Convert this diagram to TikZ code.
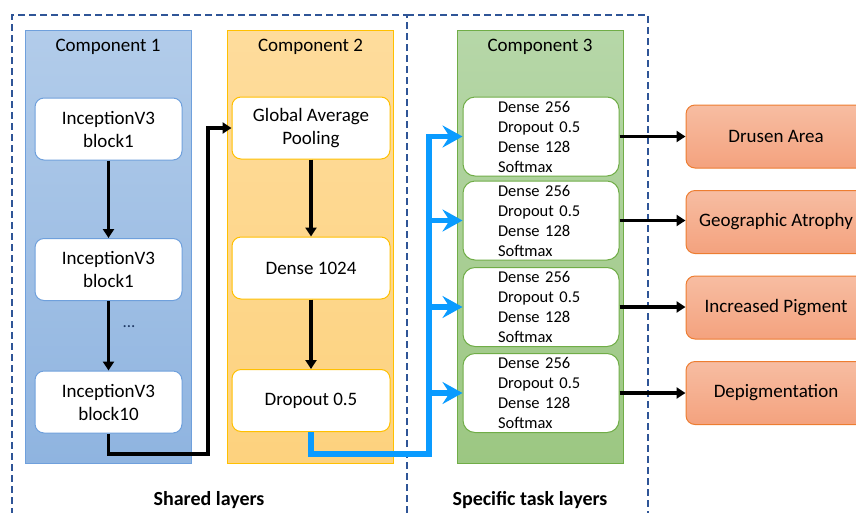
\documentclass[tikz,border=0pt]{standalone}
\usepackage{fontspec}
\setmainfont{Carlito}
\usepackage{xcolor}
\usetikzlibrary{arrows.meta, positioning, calc}
\definecolor{dashblue}{HTML}{2F5597}
\definecolor{c1top}{HTML}{B2CCEA}
\definecolor{c1bot}{HTML}{8FB4E0}
\definecolor{c1line}{HTML}{6FA0DC}
\definecolor{c2top}{HTML}{FEDC9C}
\definecolor{c2bot}{HTML}{FDD27E}
\definecolor{c2line}{HTML}{FFC000}
\definecolor{c3top}{HTML}{B6D7A8}
\definecolor{c3bot}{HTML}{9CC782}
\definecolor{c3line}{HTML}{70AD47}
\definecolor{outtop}{HTML}{F7BDA2}
\definecolor{outbot}{HTML}{F4A27E}
\definecolor{outline}{HTML}{ED7D31}
\definecolor{busblue}{HTML}{0A9BFF}
\definecolor{dotnavy}{HTML}{1F3864}
\tikzset{
  groupdash/.style={draw=dashblue, dash pattern=on 7pt off 4pt, line width=2.2pt},
  column/.style={draw, line width=1pt, minimum width=166pt, minimum height=433pt},
  title/.style={font=\fontsize{19}{22}\selectfont},
  layer/.style={draw, fill=white, rounded corners=9pt, line width=1pt, minimum height=62pt, align=center, font=\fontsize{19}{23}\selectfont},
  head/.style={draw=c3line, fill=white, rounded corners=12pt, line width=1pt, minimum width=156pt, minimum height=79pt, text width=86pt, inner xsep=35pt, inner ysep=0pt, align=left, font=\fontsize{16.5}{20}\selectfont},
  output/.style={draw=outline, top color=outtop, bottom color=outbot, rounded corners=9pt, line width=1pt, minimum width=180pt, minimum height=63pt, font=\fontsize{19}{22}\selectfont},
  link/.style={-{Triangle[length=9pt, width=11pt]}, line width=3.2pt},
  buslink/.style={-{Stealth[length=20pt, width=22pt, inset=7pt]}, line width=5.5pt, draw=busblue},
  caption/.style={font=\fontsize{20}{24}\selectfont\bfseries}
}

\begin{document}
\begin{tikzpicture}[x=1pt, y=-1pt]
    \useasboundingbox (0,0) rectangle (856,512);
    \clip (0,0) rectangle (856,512);

    % Groups
    \draw[groupdash] (407,535) -- (407,15) -- (12,15) -- (12,535);
    \draw[groupdash] (407,15) -- (648,15) -- (648,535);
    \node[caption] (sharedlbl) at (209,500) {Shared layers};
    \node[caption] (specificlbl) at (530,500) {Specific task layers};

    % Columns
    \node[column, draw=c1line, top color=c1top, bottom color=c1bot] (col1) at (108,246.5) {};
    \node[column, draw=c2line, top color=c2top, bottom color=c2bot] (col2) at (310.5,246.5) {};
    \node[column, draw=c3line, top color=c3top, bottom color=c3bot] (col3) at (540,246.5) {};
    \node[title] (tit1) at (108,47) {Component 1};
    \node[title] (tit2) at (310.5,47) {Component 2};
    \node[title] (tit3) at (540,47) {Component 3};

    % Component 1
    \node[layer, draw=c1line, minimum width=147pt] (b1) at (108.5,129) {InceptionV3\\block1};
    \node[layer, draw=c1line, minimum width=147pt] (b2) at (108.5,269.5) {InceptionV3\\block1};
    \node[layer, draw=c1line, minimum width=147pt] (b3) at (108.5,402) {InceptionV3\\block10};
    \node[text=dotnavy, font=\fontsize{17}{18}\selectfont] (dots) at (129,327) {...};

    % Component 2
    \node[layer, draw=c2line, minimum width=158pt] (gap) at (311,128) {Global Average\\Pooling};
    \node[layer, draw=c2line, minimum width=158pt] (dense) at (311,268) {Dense 1024};
    \node[layer, draw=c2line, minimum width=158pt] (drop) at (311,400.5) {Dropout 0.5};

    % Component 3
    \node[head] (t1) at (541,136.5) {Dense 256\\Dropout 0.5\\Dense 128\\Softmax};
    \node[head] (t2) at (541,220.5) {Dense 256\\Dropout 0.5\\Dense 128\\Softmax};
    \node[head] (t3) at (541,307) {Dense 256\\Dropout 0.5\\Dense 128\\Softmax};
    \node[head] (t4) at (541,393) {Dense 256\\Dropout 0.5\\Dense 128\\Softmax};

    % Outputs
    \node[output] (o1) at (776,136.5) {Drusen Area};
    \node[output] (o2) at (776,222) {Geographic Atrophy};
    \node[output] (o3) at (776,307.5) {Increased Pigment};
    \node[output] (o4) at (776,393) {Depigmentation};

    % Links
    \draw[link] (b1) -- (b2);
    \draw[link] (b2) -- (b3);
    \draw[link] (gap) -- (dense);
    \draw[link] (dense) -- (drop);

    \coordinate (jog) at (208,454);
    \draw[link] (b3.south) |- (jog) |- (gap.west);

    \coordinate (bus) at (429,454);
    \draw[buslink] (drop.south) |- (bus) |- (t1.west);
    \foreach \i in {2,3,4}
        \draw[buslink] (bus |- t\i.west) -- (t\i.west);

    \foreach \i in {1,2,3,4}
        \draw[link] (t\i.east) -- (t\i.east -| o\i.west);
\end{tikzpicture}
\end{document}
